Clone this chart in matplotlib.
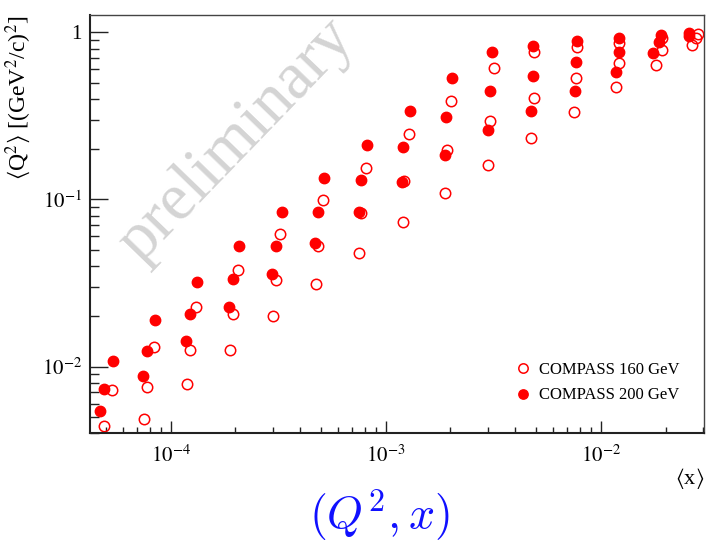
import numpy as np
import matplotlib
matplotlib.use("Agg")
from matplotlib import pyplot as plt
from matplotlib.ticker import FuncFormatter, NullFormatter, LogLocator

#------------------------------------------------------------------------------
# Data: <x> and <Q^2> per bin, COMPASS 160 GeV (open) and 200 GeV (filled)
#------------------------------------------------------------------------------
x_160 = [4.90e-5, 5.34e-5, 7.52e-5, 7.79e-5, 8.36e-5,
         1.187e-4, 1.225e-4, 1.306e-4, 1.891e-4, 1.941e-4, 2.061e-4,
         2.987e-4, 3.084e-4, 3.243e-4, 4.765e-4, 4.868e-4, 5.135e-4,
         7.55e-4, 7.68e-4, 8.10e-4, 1.20e-3, 1.216e-3, 1.279e-3,
         1.894e-3, 1.926e-3, 2.02e-3, 3.00e-3, 3.05e-3, 3.18e-3,
         4.75e-3, 4.87e-3, 4.87e-3, 7.52e-3, 7.71e-3, 7.77e-3,
         1.179e-2, 1.217e-2, 1.221e-2, 1.80e-2, 1.92e-2, 1.93e-2,
         2.65e-2, 2.77e-2, 2.84e-2]
q2_160 = [4.41e-3, 7.24e-3, 4.82e-3, 7.49e-3, 1.305e-2,
          7.87e-3, 1.252e-2, 2.256e-2, 1.264e-2, 2.048e-2, 3.79e-2,
          2.00e-2, 3.30e-2, 6.17e-2, 3.12e-2, 5.28e-2, 9.86e-2,
          4.79e-2, 8.31e-2, 0.1546, 7.28e-2, 0.1292, 0.246,
          0.1086, 0.1973, 0.388, 0.1598, 0.293, 0.609,
          0.2318, 0.4043, 0.765, 0.3346, 0.530, 0.820,
          0.4685, 0.652, 0.866, 0.637, 0.787, 0.928,
          0.839, 0.921, 0.977]

x_200 = [4.68e-5, 4.91e-5, 5.40e-5, 7.41e-5, 7.79e-5, 8.48e-5,
         1.178e-4, 1.233e-4, 1.32e-4, 1.871e-4, 1.947e-4, 2.083e-4,
         2.955e-4, 3.084e-4, 3.298e-4, 4.694e-4, 4.868e-4, 5.19e-4,
         7.49e-4, 7.65e-4, 8.16e-4, 1.196e-3, 1.208e-3, 1.293e-3,
         1.886e-3, 1.914e-3, 2.032e-3, 3.00e-3, 3.04e-3, 3.116e-3,
         4.75e-3, 4.82e-3, 4.85e-3, 7.55e-3, 7.63e-3, 7.75e-3,
         1.174e-2, 1.212e-2, 1.217e-2, 1.751e-2, 1.867e-2, 1.913e-2,
         2.563e-2, 2.58e-2]
q2_200 = [5.40e-3, 7.38e-3, 1.086e-2, 8.78e-3, 1.235e-2, 1.886e-2,
          1.423e-2, 2.048e-2, 3.20e-2, 2.265e-2, 3.32e-2, 5.28e-2,
          3.555e-2, 5.28e-2, 8.42e-2, 5.50e-2, 8.42e-2, 0.1341,
          8.39e-2, 0.1310, 0.2123, 0.1269, 0.2048, 0.3393,
          0.1834, 0.3097, 0.530, 0.260, 0.4432, 0.759,
          0.3393, 0.5475, 0.831, 0.447, 0.664, 0.887,
          0.576, 0.759, 0.924, 0.752, 0.878, 0.963,
          0.954, 0.995]

labels = ['COMPASS 160 GeV', 'COMPASS 200 GeV']

#------------------------------------------------------------------------------
# Plot
#------------------------------------------------------------------------------
plt.rcParams['font.family'] = ['Liberation Serif', 'DejaVu Serif']
plt.rcParams['mathtext.fontset'] = 'stix'

fig = plt.figure(figsize=(7.07, 5.47), dpi=100)
ax = fig.add_axes([0.1273, 0.2084, 0.8685, 0.7642])

ax.plot(x_160, q2_160, 'o', mfc='none', mec='red', mew=1.1, ms=7.5,
        linestyle='none', label=labels[0])
ax.plot(x_200, q2_200, 'o', mfc='red', mec='red', mew=1.0, ms=7.5,
        linestyle='none', label=labels[1])

ax.set_xscale('log')
ax.set_yscale('log')
ax.set_xlim(4.22e-5, 3.02e-2)
ax.set_ylim(4.0e-3, 1.27)

def fmt(v, pos):
  if abs(v - 1.0) < 1e-9:
    return '1'
  return r'$10^{%d}$' % int(round(np.log10(v)))

for axis in (ax.xaxis, ax.yaxis):
  axis.set_major_locator(LogLocator(base=10))
  axis.set_minor_locator(LogLocator(base=10, subs=np.arange(2, 10)))
  axis.set_major_formatter(FuncFormatter(fmt))
  axis.set_minor_formatter(NullFormatter())

ax.tick_params(axis='both', which='both', direction='in', top=False,
               right=False, labelsize=15, width=1.0, color='#222222')
ax.tick_params(axis='y', which='major', length=13, pad=6)
ax.tick_params(axis='y', which='minor', length=6.5)
ax.tick_params(axis='x', which='major', length=9, pad=9)
ax.tick_params(axis='x', which='minor', length=4.5)

for s in ['left', 'bottom']:
  ax.spines[s].set_linewidth(1.5)
  ax.spines[s].set_color('#222222')
for s in ['top', 'right']:
  ax.spines[s].set_linewidth(1.0)
  ax.spines[s].set_color('#444444')

ax.set_ylabel(r'$\langle$Q$^{2}\rangle$ [(GeV$^{2}$/c)$^{2}$]', fontsize=17,
              loc='top')
ax.yaxis.set_label_coords(-0.093, 1.0)
ax.set_xlabel(r'$\langle$x$\rangle$', fontsize=16, loc='right')
ax.xaxis.set_label_coords(1.0, -0.08)

ax.text(0.239, 0.70, 'preliminary', transform=ax.transAxes, fontsize=48,
        color='#d4d4d4', rotation=46, ha='center', va='center',
        rotation_mode='anchor', zorder=0)

ax.legend(loc='lower right', bbox_to_anchor=(0.985, 0.035), frameon=False,
          fontsize=12, handletextpad=0.4, labelspacing=0.55,
          handlelength=1.2, markerscale=0.9)

fig.text(0.537, 0.058, r'$(Q^2, x)$', fontsize=33, color='#1010ff',
         ha='center', va='center', math_fontfamily='cm')

fig.savefig('out.png', dpi=100)
